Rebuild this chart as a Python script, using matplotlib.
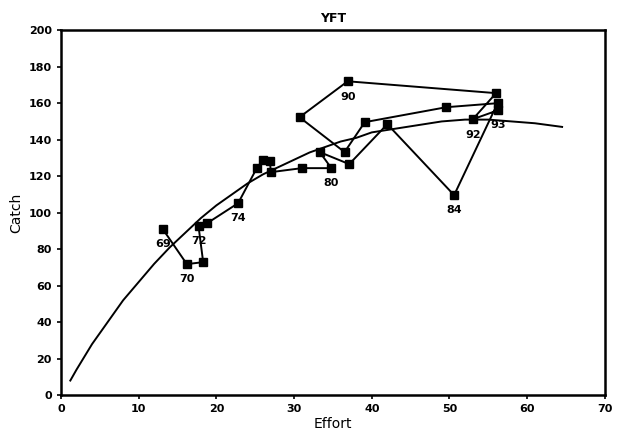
import matplotlib
matplotlib.use("Agg")
import matplotlib.pyplot as plt

# observed catch/effort by year
years = ["69", "70", "71", "72", "73", "74", "75", "76", "77", "78", "79", "80", "81",
         "82", "83", "84", "85", "86", "87", "88", "89", "90", "91", "92", "93"]
effort = [13.1, 16.2, 18.3, 17.7, 18.8, 22.8, 25.2, 26.0, 26.9, 27.0, 31.0, 34.8, 33.3,
          37.1, 42.0, 50.6, 56.2, 49.6, 39.1, 36.5, 30.7, 36.9, 56.0, 53.0, 56.3]
catch = [91.0, 71.8, 72.9, 92.6, 94.2, 105.2, 124.4, 128.8, 128.2, 122.2, 124.4, 124.4, 133.2,
         126.6, 148.5, 109.6, 160.0, 157.8, 149.6, 133.2, 152.3, 172.0, 165.5, 151.2, 156.2]
labelled = ["69", "70", "72", "74", "80", "84", "90", "92", "93"]

# production model curve
curve_effort = [1.2, 2, 3, 4, 6, 8, 10, 12, 14, 16, 18, 20, 22, 24, 26, 28, 30, 32, 34,
                36, 38, 40, 43, 46, 49, 52, 55, 58, 61, 64.5]
curve_catch = [8, 14, 21, 28, 40, 52, 62, 72, 81, 89, 97, 104, 110, 116, 121, 125, 129, 133, 136,
               139, 141, 144, 146, 148, 150, 151, 151, 150, 149, 147]

fig = plt.figure(figsize=(6.18, 4.44), dpi=100)
ax = fig.add_axes([0.0987, 0.110, 0.880, 0.822])

ax.plot(curve_effort, curve_catch, color="black", lw=1.4)
ax.plot(effort, catch, color="black", lw=1.4, marker="s", markersize=6,
        markerfacecolor="black", markeredgecolor="black")

for yr, e, c in zip(years, effort, catch):
    if yr in labelled:
        ax.annotate(yr, (e, c), xytext=(0, -11), textcoords="offset points",
                    ha="center", va="center", fontsize=8, fontweight="bold")

ax.set_xlim(0, 70)
ax.set_ylim(0, 200)
ax.set_xticks(range(0, 71, 10))
ax.set_yticks(range(0, 201, 20))
ax.tick_params(direction="out", length=3, width=1.2, labelsize=8)
for lab in ax.get_xticklabels() + ax.get_yticklabels():
    lab.set_fontweight("bold")
for sp in ax.spines.values():
    sp.set_linewidth(1.8)

ax.set_xlabel("Effort", fontsize=10, labelpad=2)
ax.set_ylabel("Catch", fontsize=10, labelpad=4)
ax.set_title("YFT", fontsize=9, fontweight="bold", pad=6)

fig.savefig("out.png", dpi=100)
